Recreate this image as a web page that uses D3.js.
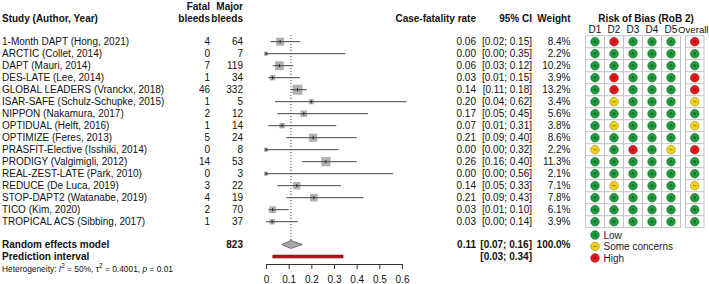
<!DOCTYPE html>
<html><head><meta charset="utf-8">
<script src="https://cdn.jsdelivr.net/npm/d3@7"></script>
<style>body{margin:0;background:#fff}svg{display:block;font-family:"Liberation Sans",Arial,sans-serif}</style>
</head><body>
<script>
const studies = ["1-Month DAPT (Hong, 2021)","ARCTIC (Collet, 2014)","DAPT (Mauri, 2014)","DES-LATE (Lee, 2014)","GLOBAL LEADERS (Vranckx, 2018)","ISAR-SAFE (Schulz-Schupke, 2015)","NIPPON (Nakamura, 2017)","OPTIDUAL (Helft, 2016)","OPTIMIZE (Feres, 2013)","PRASFIT-Elective (Isshiki, 2014)","PRODIGY (Valgimigli, 2012)","REAL-ZEST-LATE (Park, 2010)","REDUCE (De Luca, 2019)","STOP-DAPT2 (Watanabe, 2019)","TICO (Kim, 2020)","TROPICAL ACS (Sibbing, 2017)"];
const fatal = [4,0,7,1,46,1,2,1,5,0,14,0,3,4,2,1];
const major = [64,7,119,34,332,5,12,14,24,8,53,3,22,19,70,37];
const est = [0.0625,0.00,0.059,0.029,0.139,0.20,0.167,0.071,0.208,0.00,0.264,0.00,0.136,0.211,0.029,0.027];
const lo = [0.02,0.00,0.03,0.01,0.11,0.04,0.05,0.01,0.09,0.00,0.16,0.00,0.05,0.09,0.01,0.00];
const hi = [0.15,0.35,0.12,0.15,0.18,0.62,0.45,0.31,0.40,0.32,0.40,0.56,0.33,0.43,0.10,0.14];
const weight = [8.4,2.2,10.2,3.9,13.2,3.4,5.6,3.8,8.6,2.2,11.3,2.1,7.1,7.8,6.1,3.9];
const robDomains = ["D1","D2","D3","D4","D5"];
const rob = [
 ["L","H","L","L","L","H"],["L","L","L","L","L","L"],["L","L","L","L","L","L"],["L","H","L","L","L","H"],
 ["L","H","L","L","L","H"],["L","S","L","L","L","S"],["L","L","L","L","L","L"],["L","S","L","L","L","S"],
 ["L","L","L","L","L","L"],["S","L","H","L","S","H"],["L","L","L","L","L","L"],["L","L","L","L","L","L"],
 ["L","S","L","L","L","S"],["L","L","L","L","L","L"],["L","L","L","L","L","L"],["L","L","L","L","L","L"]];
const pooled = {est:0.11, lo:0.07, hi:0.16, total:823, weight:"100.0%"};
const predInt = {lo:0.03, hi:0.34};
const tickValues = [0,0.1,0.2,0.3,0.4,0.5,0.6];
const tickLabels = ["0","0.1","0.2","0.3","0.4","0.5","0.6"];
const legendItems = [["L","Low"],["S","Some concerns"],["H","High"]];

const W=709,H=284;
const svg=d3.select("body").append("svg").attr("width",W).attr("height",H);
const fs=10, tc="#111";
const y=d3.scaleLinear().domain([0,15]).range([41.7,221.7]);
const yRE=244.5, yPI=256.5;
const x=d3.scaleLinear().domain([0,0.6]).range([266,402]);
const f2=d3.format(".2f");
const txt=(g,xx,yy,s,anchor,bold,size)=>g.append("text").attr("x",xx).attr("y",yy).attr("text-anchor",anchor||"start")
  .attr("font-size",size||fs).attr("font-weight",bold?"bold":"normal").attr("fill",tc).text(s);

// headers
txt(svg,2,21.5,"Study (Author, Year)","start",true);
txt(svg,210,9.5,"Fatal","end",true); txt(svg,210,21.5,"bleeds","end",true);
txt(svg,243,9.5,"Major","end",true); txt(svg,243,21.5,"bleeds","end",true);
txt(svg,476,21.5,"Case-fatality rate","end",true);
txt(svg,532,21.5,"95% CI","end",true);
txt(svg,570.5,21.5,"Weight","end",true);
txt(svg,646,21.5,"Risk of Bias (RoB 2)","middle",true);

// rows
studies.forEach((s,i)=>{
  const yy=y(i)+3.6;
  txt(svg,2,yy,s);
  txt(svg,210,yy,String(fatal[i]),"end");
  txt(svg,243,yy,String(major[i]),"end");
  txt(svg,476,yy,f2(est[i]),"end");
  txt(svg,532,yy,"["+f2(lo[i])+"; "+f2(hi[i])+"]","end");
  txt(svg,570.5,yy,weight[i].toFixed(1)+"%","end");
});
txt(svg,2,yRE+3.6,"Random effects model","start",true);
txt(svg,243,yRE+3.6,String(pooled.total),"end",true);
txt(svg,476,yRE+3.6,f2(pooled.est),"end",true);
txt(svg,532,yRE+3.6,"["+f2(pooled.lo)+"; "+f2(pooled.hi)+"]","end",true);
txt(svg,570.5,yRE+3.6,pooled.weight,"end",true);
txt(svg,2,yPI+3.6,"Prediction interval","start",true);
txt(svg,532,yPI+3.6,"["+f2(predInt.lo)+"; "+f2(predInt.hi)+"]","end",true);

// heterogeneity
const ht=svg.append("text").attr("x",2).attr("y",271.5).attr("font-size",8.4).attr("fill",tc);
ht.append("tspan").text("Heterogeneity: ");
ht.append("tspan").attr("font-style","italic").text("I");
ht.append("tspan").attr("font-size",6.5).attr("dy",-3.5).text("2");
ht.append("tspan").attr("dy",3.5).text(" = 50%, \u03C4");
ht.append("tspan").attr("font-size",6.5).attr("dy",-3.5).text("2");
ht.append("tspan").attr("dy",3.5).text(" = 0.4001, ");
ht.append("tspan").attr("font-style","italic").text("p");
ht.append("tspan").text(" = 0.01");

// forest
const fg=svg.append("g");
fg.append("line").attr("x1",x(pooled.est)).attr("x2",x(pooled.est)).attr("y1",35).attr("y2",yRE-4)
  .attr("stroke","#444").attr("stroke-width",1).attr("stroke-dasharray","1,2");
const sz=d3.scaleSqrt().domain([0,13.2]).range([0,10]);
studies.forEach((s,i)=>{
  const cy=y(i), k=sz(weight[i]);
  fg.append("rect").attr("x",x(est[i])-k/2).attr("y",cy-k/2).attr("width",k).attr("height",k).attr("fill","#b0b0b0");
  fg.append("line").attr("x1",x(lo[i])).attr("x2",x(hi[i])).attr("y1",cy).attr("y2",cy).attr("stroke","#444").attr("stroke-width",1);
  fg.append("line").attr("x1",x(est[i])).attr("x2",x(est[i])).attr("y1",cy-1.5).attr("y2",cy+1.5).attr("stroke","#222").attr("stroke-width",1);
});
fg.append("polygon").attr("points",[[x(pooled.lo),yRE],[x(pooled.est),yRE-4],[x(pooled.hi),yRE],[x(pooled.est),yRE+4]].map(p=>p.join(",")).join(" "))
  .attr("fill","#a8a8a8").attr("stroke","#555").attr("stroke-width",0.8);
fg.append("rect").attr("x",x(predInt.lo)).attr("y",yPI-1.5).attr("width",x(predInt.hi)-x(predInt.lo)).attr("height",3)
  .attr("fill","#b5161b").attr("stroke","#6a0a0a").attr("stroke-width",0.5);

// axis
const axY=264;
const ax=svg.append("g").attr("transform",`translate(0,${axY})`)
  .call(d3.axisBottom(x).tickValues(tickValues).tickFormat((d,i)=>tickLabels[i]).tickSize(5).tickSizeOuter(0));
ax.select(".domain").attr("stroke","#333");
ax.selectAll(".tick line").attr("stroke","#333");
ax.selectAll(".tick text").attr("font-size",fs).attr("fill",tc).attr("font-family","Liberation Sans, Arial, sans-serif").attr("dy","1.05em");

// Risk of bias grid
const cb=d3.scaleBand().domain(robDomains).range([585.5,680.5]);
const ovL=685.5, ovR=704;
const gTop=35.7, rowH=12, gBot=gTop+rowH*16;
const rg=svg.append("g");
robDomains.forEach(d=>txt(rg,cb(d)+cb.bandwidth()/2,33,d,"middle",false));
txt(rg,708.5,33,"Overall","end",false,9.6);
const gc="#c4c4c4";
for(let i=0;i<=16;i++){
  const yy=gTop+rowH*i;
  rg.append("line").attr("x1",585.5).attr("x2",680.5).attr("y1",yy).attr("y2",yy).attr("stroke",gc);
  rg.append("line").attr("x1",ovL).attr("x2",ovR).attr("y1",yy).attr("y2",yy).attr("stroke",gc);
}
robDomains.concat(["end"]).forEach((d,j)=>{
  const xx=585.5+cb.bandwidth()*j;
  rg.append("line").attr("x1",xx).attr("x2",xx).attr("y1",gTop).attr("y2",gBot).attr("stroke",gc);
});
[ovL,ovR].forEach(xx=>rg.append("line").attr("x1",xx).attr("x2",xx).attr("y1",gTop).attr("y2",gBot).attr("stroke",gc));

const colors={L:{f:"#1f9d3d",s:"#0f5e22",m:"#0a4d1a"},S:{f:"#f3d21a",s:"#9a8400",m:"#6b5a00"},H:{f:"#e31b1b",s:"#8c0b0b",m:"#7a0000"}};
function dot(g,cx,cy,c){
  const col=colors[c];
  g.append("circle").attr("cx",cx).attr("cy",cy).attr("r",4.3).attr("fill",col.f).attr("stroke",col.s).attr("stroke-width",0.6);
  const m=g.append("g").attr("stroke",col.m).attr("stroke-width",0.7);
  if(c==="L"){m.append("line").attr("x1",cx-1.6).attr("x2",cx+1.6).attr("y1",cy).attr("y2",cy);
              m.append("line").attr("x1",cx).attr("x2",cx).attr("y1",cy-1.6).attr("y2",cy+1.6);}
  else if(c==="S"){m.append("line").attr("x1",cx-1.8).attr("x2",cx+1.8).attr("y1",cy).attr("y2",cy);}
  else {m.append("line").attr("x1",cx-1.3).attr("x2",cx+1.3).attr("y1",cy-1.3).attr("y2",cy+1.3);
        m.append("line").attr("x1",cx-1.3).attr("x2",cx+1.3).attr("y1",cy+1.3).attr("y2",cy-1.3);}
}
rob.forEach((r,i)=>{
  const cy=gTop+rowH*i+rowH/2;
  robDomains.forEach((d,j)=>dot(rg,cb(d)+cb.bandwidth()/2,cy,r[j]));
  dot(rg,(ovL+ovR)/2,cy,r[5]);
});
legendItems.forEach(([c,l],i)=>{
  const cy=235+11.5*i;
  dot(rg,595,cy,c);
  rg.append("text").attr("x",603.5).attr("y",cy+3.6).attr("font-size",fs).attr("fill","#222").text(l);
});
</script>
</body></html>
